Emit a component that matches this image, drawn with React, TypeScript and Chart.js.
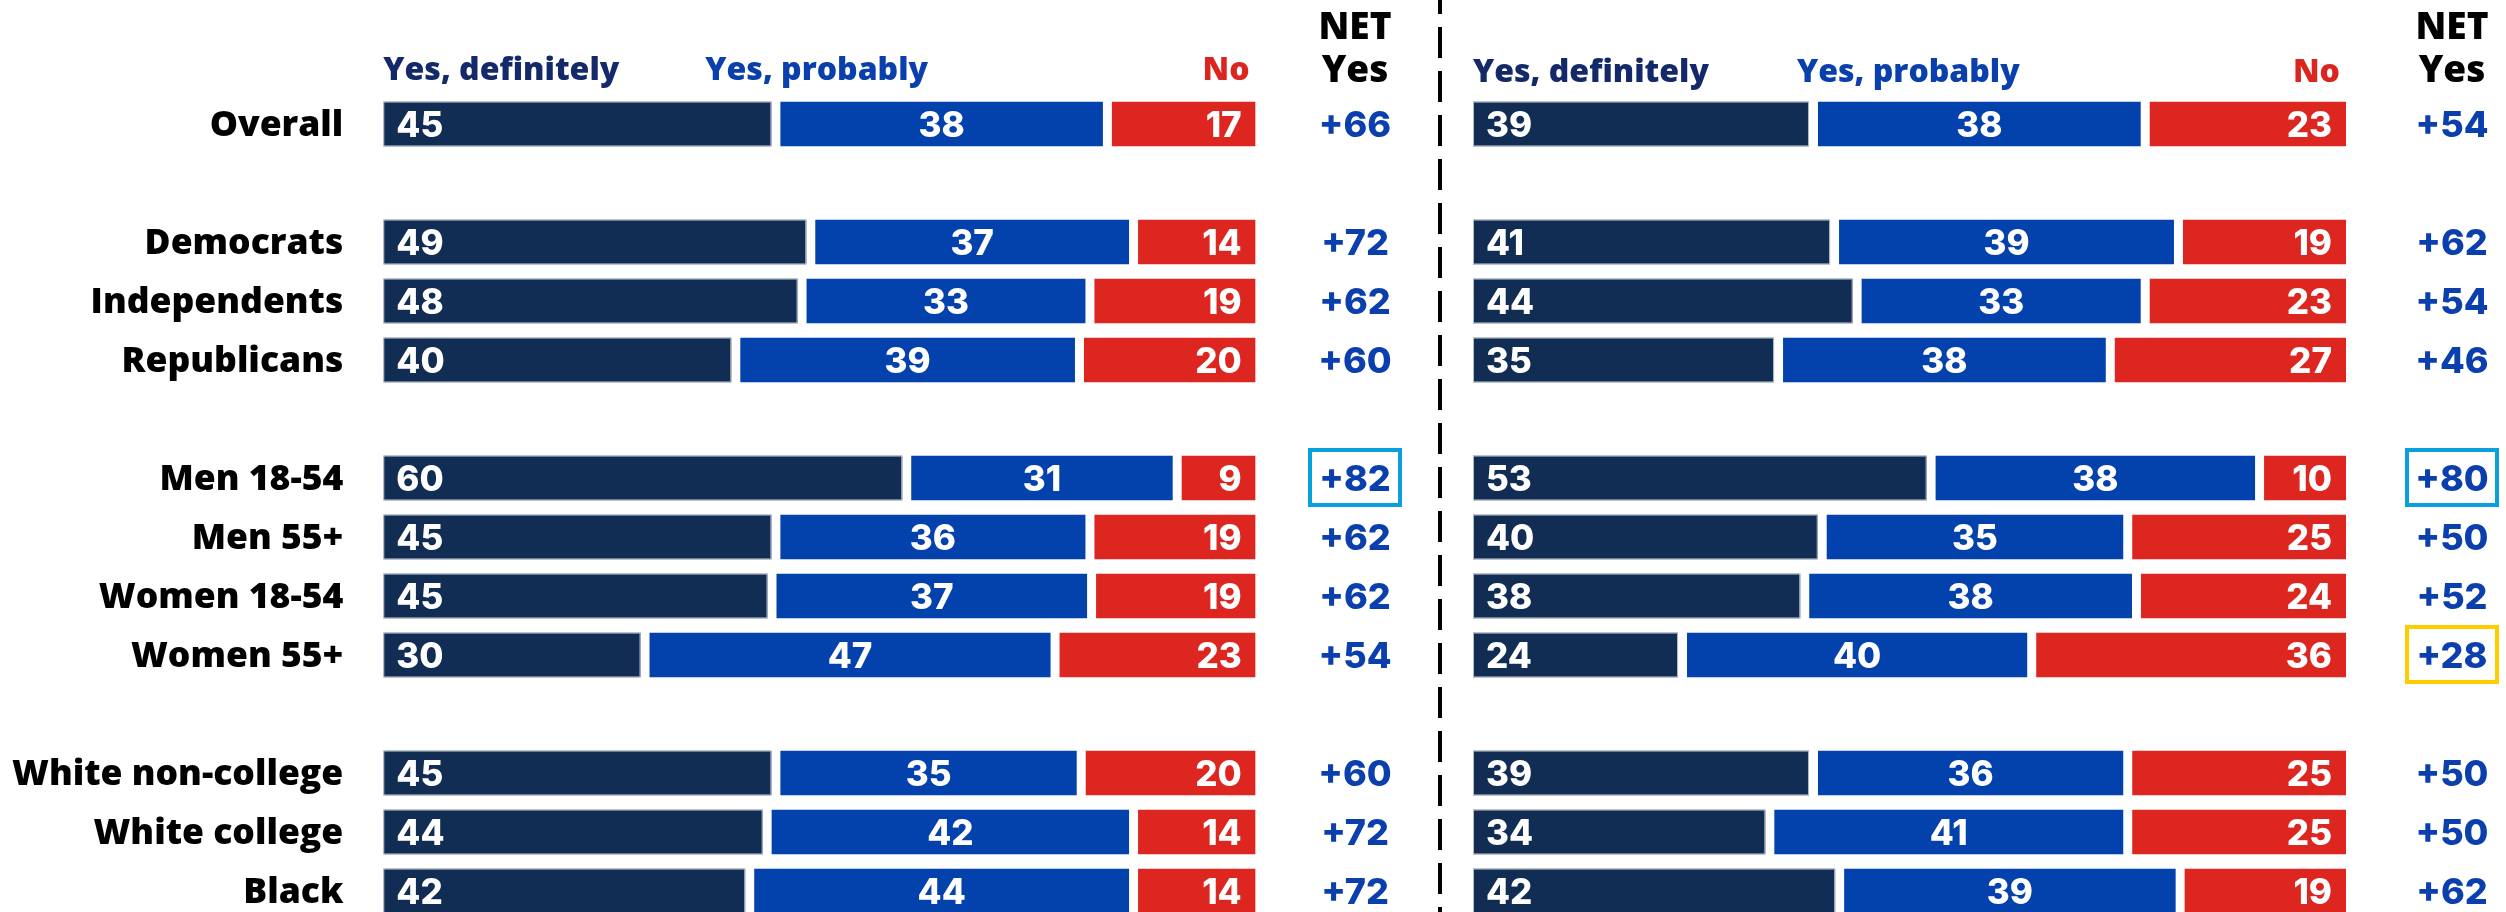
import React, { useEffect, useRef } from "react";
import { Chart, registerables } from "chart.js";

Chart.register(...registerables);

// ---------------- data ----------------
const groups: string[][] = [
  ["Overall"],
  ["Democrats", "Independents", "Republicans"],
  ["Men 18-54", "Men 55+", "Women 18-54", "Women 55+"],
  ["White non-college", "White college", "Black"],
];
const categories: string[] = groups.flat();

const seriesNames = ["Yes, definitely", "Yes, probably", "No"];
const netHeader = ["NET", "Yes"];

const leftDefinitely = [45, 49, 48, 40, 60, 45, 45, 30, 45, 44, 42];
const leftProbably = [38, 37, 33, 39, 31, 36, 37, 47, 35, 42, 44];
const leftNo = [17, 14, 19, 20, 9, 19, 19, 23, 20, 14, 14];
const leftNet = [66, 72, 62, 60, 82, 62, 62, 54, 60, 72, 72];

const rightDefinitely = [39, 41, 44, 35, 53, 40, 38, 24, 39, 34, 42];
const rightProbably = [38, 39, 33, 38, 38, 35, 38, 40, 36, 41, 39];
const rightNo = [23, 19, 23, 27, 10, 25, 24, 36, 25, 25, 19];
const rightNet = [54, 62, 54, 46, 80, 50, 52, 28, 50, 50, 62];

const leftHighlights: [string, string][] = [["Men 18-54", "#0aa0dd"]];
const rightHighlights: [string, string][] = [
  ["Men 18-54", "#0aa0dd"],
  ["Women 55+", "#ffcc00"],
];

// ---------------- style ----------------
const DARK = "#112d54";
const BLUE = "#0341ad";
const RED = "#dc261f";
const HEAD_COLORS = ["#13296a", "#0a40ae", "#dc251f"];
const NET_COLOR = "#0b3fae";
const GAP = 4.5;
const LABEL_FONT = '"Open Sans", "DejaVu Sans", sans-serif';
const NUM_FONT = 'Inter, "Open Sans", sans-serif';

// put a blank slot between groups
function toSlots<T>(vals: T[]): (T | null)[] {
  const out: (T | null)[] = [];
  let k = 0;
  groups.forEach((g, gi) => {
    if (gi > 0) out.push(null);
    g.forEach(() => out.push(vals[k++]));
  });
  return out;
}
const slotLabels = toSlots(categories).map((v) => v ?? "");

type Panel = {
  def: number[];
  prob: number[];
  no: number[];
  net: number[];
  highlights: [string, string][];
  showLabels: boolean;
  padLeft: number;
  padRight: number;
  netX: number;
  headerY: number;
  probOffset: number;
  divider: number | null;
};

const panelPlugin = {
  id: "panel",
  afterDraw(chart: any, _args: any, opts: any) {
    const ctx: CanvasRenderingContext2D = chart.ctx;
    const area = chart.chartArea;
    const ys = chart.scales.y;
    ctx.save();

    // row labels
    if (opts.showLabels) {
      ctx.font = `800 35.5px ${LABEL_FONT}`;
      ctx.fillStyle = "#000";
      ctx.textAlign = "right";
      ctx.textBaseline = "alphabetic";
      chart.data.labels.forEach((lab: string, i: number) => {
        if (!lab) return;
        const cy = ys.getPixelForValue(i);
        ctx.fillText(lab, area.left - 40, cy + 35.5 * 0.35);
      });
    }

    // thin outline of the dark bars
    const m0 = chart.getDatasetMeta(0);
    ctx.strokeStyle = "#b3bbc8";
    ctx.lineWidth = 1;
    m0.data.forEach((bar: any, i: number) => {
      if (opts.raw[0][i] == null) return;
      const p = bar.getProps(["x", "y", "base", "height"], true);
      ctx.strokeRect(p.base + 0.5, p.y - p.height / 2 + 0.5, p.x - GAP - p.base - 1, p.height - 1);
    });

    // value labels in bars
    ctx.fillStyle = "#ffffff";
    ctx.font = `800 35px ${NUM_FONT}`;
    ctx.textBaseline = "alphabetic";
    for (let di = 0; di < 3; di++) {
      const meta = chart.getDatasetMeta(di);
      meta.data.forEach((bar: any, i: number) => {
        const v = opts.raw[di][i];
        if (v == null) return;
        const p = bar.getProps(["x", "y", "base", "height"], true);
        const by = p.y + 35 * 0.36;
        if (di === 0) {
          ctx.textAlign = "left";
          ctx.fillText(String(v), p.base + 13, by);
        } else if (di === 1) {
          ctx.textAlign = "center";
          ctx.fillText(String(v), (p.base + p.x) / 2, by);
        } else {
          ctx.textAlign = "right";
          ctx.fillText(String(v), p.x - 14, by);
        }
      });
    }

    // column headers
    const names = chart.data.datasets.map((d: any) => d.label);
    ctx.font = `800 32px ${LABEL_FONT}`;
    ctx.textAlign = "left";
    ctx.fillStyle = HEAD_COLORS[0];
    ctx.fillText(names[0], area.left, opts.headerY);
    ctx.fillStyle = HEAD_COLORS[1];
    ctx.fillText(names[1], area.left + opts.probOffset, opts.headerY);
    ctx.textAlign = "right";
    ctx.fillStyle = HEAD_COLORS[2];
    ctx.fillText(names[2], area.right - 6, opts.headerY);

    // NET header
    ctx.font = `800 37px ${LABEL_FONT}`;
    ctx.textAlign = "center";
    ctx.fillStyle = "#000";
    ctx.fillText(netHeader[0], opts.netX, 38.5);
    ctx.fillText(netHeader[1], opts.netX, 82);

    // NET values + highlight boxes
    ctx.font = `800 36px ${NUM_FONT}`;
    opts.net.forEach((v: number | null, i: number) => {
      if (v == null) return;
      const cy = ys.getPixelForValue(i);
      ctx.fillStyle = NET_COLOR;
      ctx.textAlign = "center";
      ctx.fillText((v >= 0 ? "+" : "") + v, opts.netX, cy + 36 * 0.36);
      const hl = opts.highlights[i];
      if (hl) {
        ctx.strokeStyle = hl;
        ctx.lineWidth = 4;
        ctx.strokeRect(opts.netX - 47 + 2, cy - 30 + 2, 94 - 4, 59 - 4);
      }
    });

    // dashed divider
    if (opts.divider != null) {
      ctx.strokeStyle = "#000";
      ctx.lineWidth = 4;
      ctx.setLineDash([31, 13]);
      ctx.lineDashOffset = 17;
      ctx.beginPath();
      ctx.moveTo(opts.divider, 0);
      ctx.lineTo(opts.divider, chart.height);
      ctx.stroke();
    }
    ctx.restore();
  },
};

function makeChart(canvas: HTMLCanvasElement, p: Panel) {
  const totals = p.def.map((d, i) => d + p.prob[i] + p.no[i]);
  const share = (arr: number[]) => toSlots(arr.map((v, i) => (v / totals[i]) * 100));
  const hlMap: Record<number, string> = {};
  p.highlights.forEach(([name, color]) => {
    hlMap[slotLabels.indexOf(name)] = color;
  });
  const common = {
    borderColor: "#ffffff",
    borderSkipped: false,
    inflateAmount: 0,
    barPercentage: 0.76,
    categoryPercentage: 1,
  };
  return new Chart(canvas, {
    type: "bar",
    data: {
      labels: slotLabels,
      datasets: [
        { ...common, label: seriesNames[0], data: share(p.def), backgroundColor: DARK, borderWidth: { top: 0, bottom: 0, left: 0, right: GAP } },
        { ...common, label: seriesNames[1], data: share(p.prob), backgroundColor: BLUE, borderWidth: { top: 0, bottom: 0, left: GAP, right: GAP } },
        { ...common, label: seriesNames[2], data: share(p.no), backgroundColor: RED, borderWidth: { top: 0, bottom: 0, left: GAP, right: 0 } },
      ] as any,
    },
    options: {
      indexAxis: "y",
      animation: false,
      responsive: false,
      devicePixelRatio: 1,
      layout: { padding: { left: p.padLeft, right: p.padRight, top: 94.5, bottom: 14.5 } },
      scales: {
        x: { stacked: true, min: 0, max: 100, display: false },
        y: { stacked: true, display: false },
      },
      plugins: {
        legend: { display: false },
        tooltip: { enabled: false },
        panel: {
          raw: [toSlots(p.def), toSlots(p.prob), toSlots(p.no)],
          net: toSlots(p.net),
          highlights: hlMap,
          showLabels: p.showLabels,
          netX: p.netX,
          headerY: p.headerY,
          probOffset: p.probOffset,
          divider: p.divider,
        },
      } as any,
    } as any,
    plugins: [panelPlugin as any],
  });
}

export default function App() {
  const leftRef = useRef<HTMLCanvasElement>(null);
  const rightRef = useRef<HTMLCanvasElement>(null);

  useEffect(() => {
    const left = makeChart(leftRef.current!, {
      def: leftDefinitely,
      prob: leftProbably,
      no: leftNo,
      net: leftNet,
      highlights: leftHighlights,
      showLabels: true,
      padLeft: 383.3,
      padRight: 164.3,
      netX: 1355,
      headerY: 79.5,
      probOffset: 322,
      divider: null,
    });
    const right = makeChart(rightRef.current!, {
      def: rightDefinitely,
      prob: rightProbably,
      no: rightNo,
      net: rightNet,
      highlights: rightHighlights,
      showLabels: false,
      padLeft: 53,
      padRight: 160,
      netX: 1032,
      headerY: 81.5,
      probOffset: 324,
      divider: 20,
    });
    return () => {
      left.destroy();
      right.destroy();
    };
  }, []);

  return (
    <div style={{ position: "fixed", left: 0, top: 0, width: 2506, height: 912, overflow: "hidden", background: "#fff" }}>
      <canvas ref={leftRef} width={1420} height={935} style={{ position: "absolute", left: 0, top: 0 }} />
      <canvas ref={rightRef} width={1086} height={935} style={{ position: "absolute", left: 1420, top: 0 }} />
    </div>
  );
}
